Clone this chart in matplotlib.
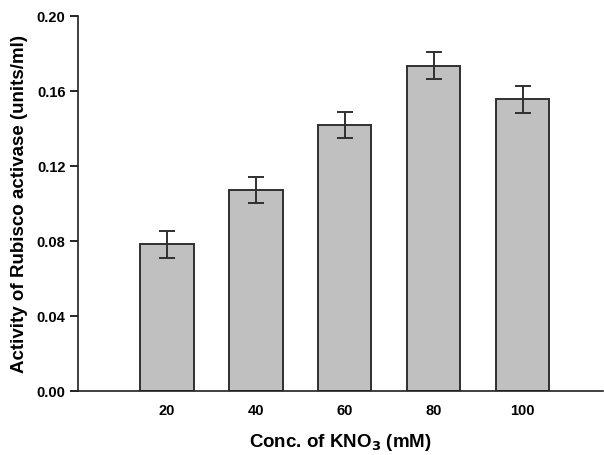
import matplotlib
matplotlib.use("Agg")
import matplotlib.pyplot as plt
import numpy as np

categories = ["20", "40", "60", "80", "100"]
values = [0.0784, 0.1074, 0.1420, 0.1736, 0.1557]
errors = [0.0071, 0.0071, 0.0071, 0.0071, 0.0071]
yticks = [0.00, 0.04, 0.08, 0.12, 0.16, 0.20]

plt.rcParams['font.family'] = ['Liberation Sans', 'DejaVu Sans']

fig = plt.figure(figsize=(6.04, 4.55), dpi=100)
ax = fig.add_axes([0.129, 0.1396, 0.869, 0.8252])

x = np.arange(len(categories))
ax.bar(x, values, width=0.6, color="#c0c0c0", edgecolor="#303030", linewidth=1.4, zorder=2)
ax.errorbar(x, values, yerr=errors, fmt="none", ecolor="#303030", elinewidth=1.4,
            capsize=6, capthick=1.4, zorder=3)

ax.set_xlim(-1, 4.9)
ax.set_ylim(0, 0.20)
ax.set_yticks(yticks)
ax.set_yticklabels([f"{t:.2f}" for t in yticks], fontsize=10.5, fontweight="bold")
ax.set_xticks(x)
ax.set_xticklabels(categories, fontsize=10.5, fontweight="bold")
ax.tick_params(axis="x", length=0, pad=9)
ax.tick_params(axis="y", length=6, width=1.2, direction="out", pad=3)

for s in ["top", "right"]:
    ax.spines[s].set_visible(False)
for s in ["left", "bottom"]:
    ax.spines[s].set_linewidth(1.2)
    ax.spines[s].set_color("#202020")

ax.set_xlabel("Conc. of KNO$_\\mathbf{3}$ (mM)", fontsize=13.5, fontweight="bold", labelpad=10)
ax.set_ylabel("Activity of Rubisco activase (units/ml)", fontsize=13.5, fontweight="bold", labelpad=6)

fig.savefig("out.png", dpi=100)
